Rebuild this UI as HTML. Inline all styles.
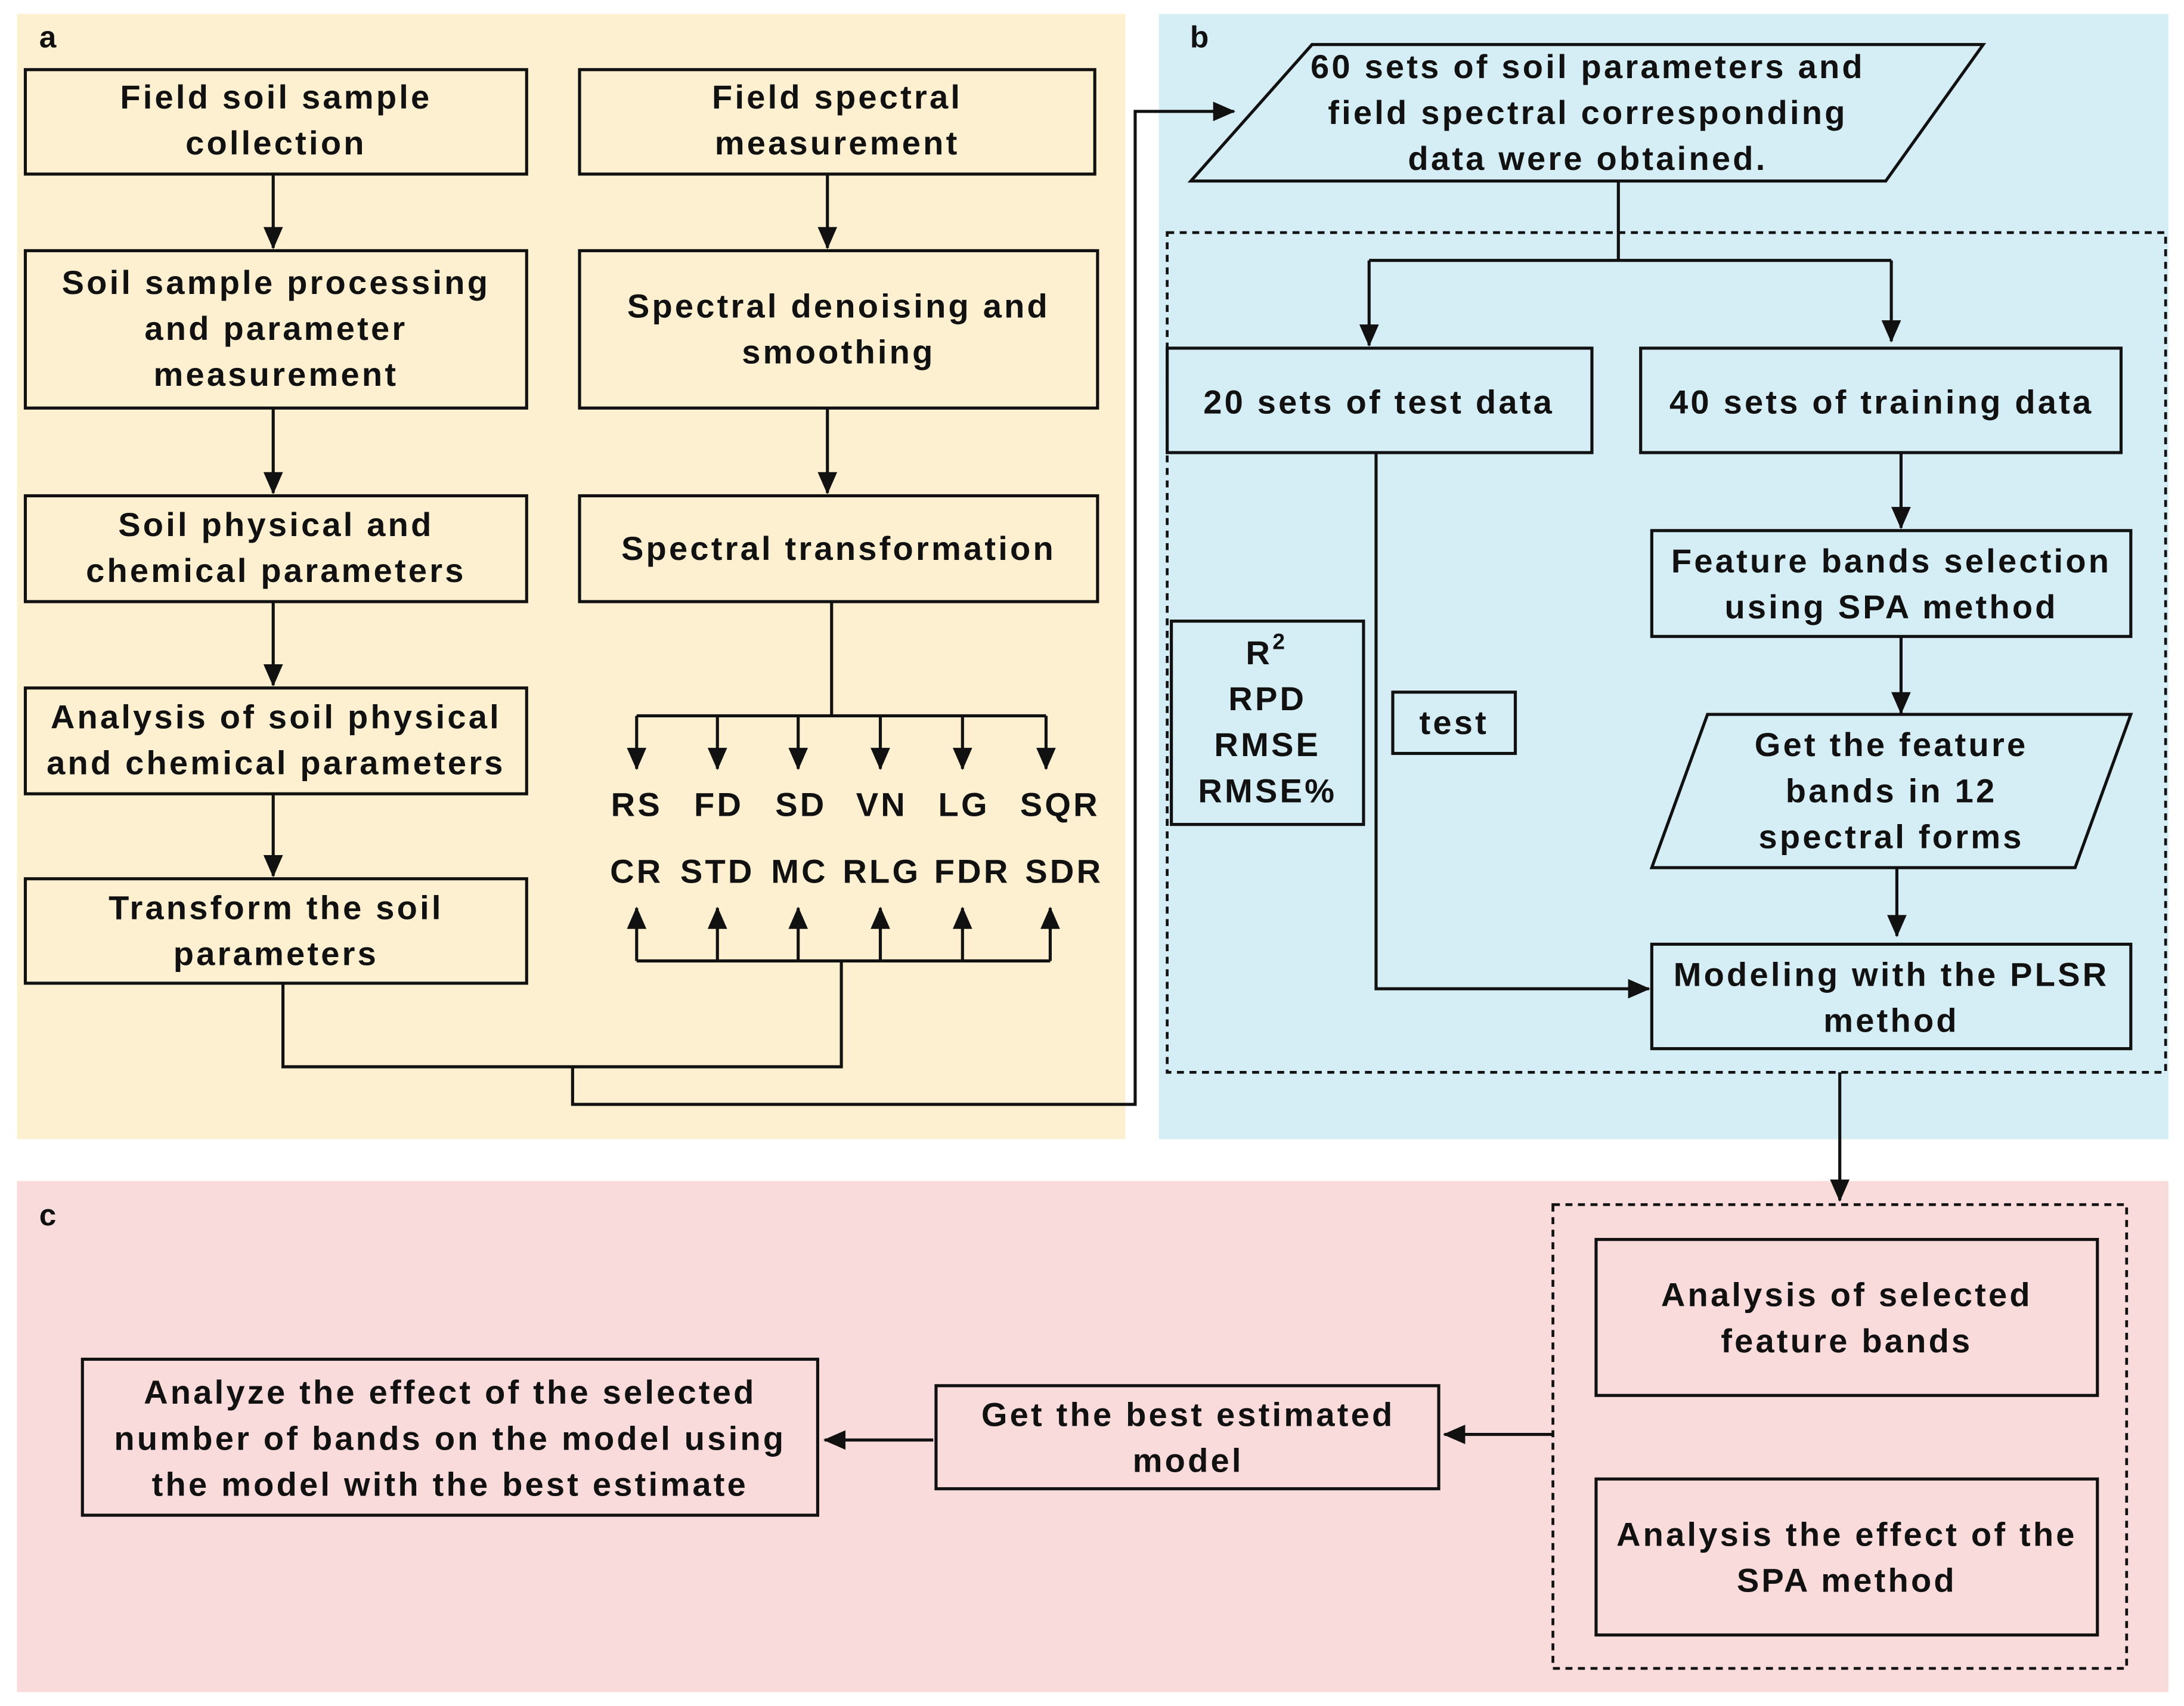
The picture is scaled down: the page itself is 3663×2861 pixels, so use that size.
<!DOCTYPE html>
<html><head><meta charset="utf-8"><style>
html,body{margin:0;padding:0;background:#fff;}
svg{display:block;}
text{font-family:"Liberation Sans",Arial,sans-serif;font-weight:bold;font-size:24px;fill:#111;text-anchor:middle;letter-spacing:1.8px;}
.b{fill:none;stroke:#111;stroke-width:2.2;}
.l{fill:none;stroke:#111;stroke-width:2.2;}
</style></head><body>
<svg width="3663" height="2861" viewBox="0 0 1568 1225" xmlns="http://www.w3.org/2000/svg">
<defs>
<marker id="a2" markerWidth="16" markerHeight="16" refX="15" refY="8" orient="auto" markerUnits="userSpaceOnUse"><path d="M0,1 L16,8 L0,15 Z" fill="#111"/></marker></defs>
<rect x="0" y="0" width="1568" height="1225" fill="#fff"/>
<rect x="12" y="10" width="796" height="808" fill="#fdf0d0"/>
<rect x="832" y="10" width="725" height="808" fill="#d5edf4"/>
<rect x="12" y="848" width="1545" height="367" fill="#f8dbda"/>
<text x="35" y="34" style="font-size:22px">a</text>
<text x="862" y="34" style="font-size:22px">b</text>
<text x="35" y="880" style="font-size:22px">c</text>

<rect class="b" x="18" y="50" width="360" height="75"/>
<text x="198" y="78">Field soil sample</text><text x="198" y="111">collection</text>
<rect class="b" x="18" y="180" width="360" height="113"/>
<text x="198" y="211">Soil sample processing</text><text x="198" y="244">and parameter</text><text x="198" y="277">measurement</text>
<rect class="b" x="18" y="356" width="360" height="76"/>
<text x="198" y="385">Soil physical and</text><text x="198" y="418">chemical parameters</text>
<rect class="b" x="18" y="494" width="360" height="76"/>
<text x="198" y="523">Analysis of soil physical</text><text x="198" y="556">and chemical parameters</text>
<rect class="b" x="18" y="631" width="360" height="75"/>
<text x="198" y="660">Transform the soil</text><text x="198" y="693">parameters</text>
<g class="l" marker-end="url(#a2)">
<line x1="196" y1="125" x2="196" y2="178"/><line x1="196" y1="293" x2="196" y2="354"/><line x1="196" y1="432" x2="196" y2="492"/><line x1="196" y1="570" x2="196" y2="629"/>
<line x1="594" y1="125" x2="594" y2="178"/><line x1="594" y1="293" x2="594" y2="354"/>
</g>
<rect class="b" x="416" y="50" width="370" height="75"/>
<text x="601" y="78">Field spectral</text><text x="601" y="111">measurement</text>
<rect class="b" x="416" y="180" width="372" height="113"/>
<text x="602" y="228">Spectral denoising and</text><text x="602" y="261">smoothing</text>
<rect class="b" x="416" y="356" width="372" height="76"/>
<text x="602" y="402">Spectral transformation</text>
<polyline class="l" points="597,432 597,514"/>
<line class="l" x1="457" y1="514" x2="751" y2="514"/>
<g class="l" marker-end="url(#a2)">
<line x1="457" y1="514" x2="457" y2="552"/><line x1="515" y1="514" x2="515" y2="552"/><line x1="573" y1="514" x2="573" y2="552"/><line x1="632" y1="514" x2="632" y2="552"/><line x1="691" y1="514" x2="691" y2="552"/><line x1="751" y1="514" x2="751" y2="552"/>
<line x1="457" y1="690" x2="457" y2="652"/><line x1="515" y1="690" x2="515" y2="652"/><line x1="573" y1="690" x2="573" y2="652"/><line x1="632" y1="690" x2="632" y2="652"/><line x1="691" y1="690" x2="691" y2="652"/><line x1="754" y1="690" x2="754" y2="652"/>
</g>
<text x="457" y="586">RS</text><text x="516" y="586">FD</text><text x="575" y="586">SD</text><text x="633" y="586">VN</text><text x="692" y="586">LG</text><text x="761" y="586">SQR</text>
<text x="457" y="634">CR</text><text x="515" y="634">STD</text><text x="574" y="634">MC</text><text x="633" y="634">RLG</text><text x="698" y="634">FDR</text><text x="764" y="634">SDR</text>
<line class="l" x1="457" y1="690" x2="754" y2="690"/>
<polyline class="l" points="604,690 604,766 203,766 203,706"/>
<polyline class="l" points="411,766 411,793 815,793 815,80 886,80" marker-end="url(#a2)"/>

<polygon class="b" points="855,130 942,32 1424,32 1354,130"/>
<text x="1140" y="56">60 sets of soil parameters and</text><text x="1140" y="89">field spectral corresponding</text><text x="1140" y="122">data were obtained.</text>
<rect x="838" y="167" width="717" height="603" fill="none" stroke="#111" stroke-width="2" stroke-dasharray="5,4"/>
<polyline class="l" points="1162,130 1162,187"/>
<line class="l" x1="983" y1="187" x2="1358" y2="187"/>
<g class="l" marker-end="url(#a2)">
<line x1="983" y1="187" x2="983" y2="248"/><line x1="1358" y1="187" x2="1358" y2="245"/>
<line x1="1365" y1="325" x2="1365" y2="379"/><line x1="1365" y1="457" x2="1365" y2="512"/><line x1="1362" y1="623" x2="1362" y2="672"/>
<polyline points="988,325 988,710 1184,710" fill="none"/>
<line x1="1321" y1="770" x2="1321" y2="862"/>
</g>
<rect class="b" x="838" y="250" width="305" height="75"/><text x="990" y="297">20 sets of test data</text>
<rect class="b" x="1178" y="250" width="345" height="75"/><text x="1351" y="297">40 sets of training data</text>
<rect class="b" x="1186" y="381" width="344" height="76"/>
<text x="1358" y="411">Feature bands selection</text><text x="1358" y="444">using SPA method</text>
<polygon class="b" points="1186,623 1226,513 1530,513 1490,623"/>
<text x="1358" y="543">Get the feature</text><text x="1358" y="576">bands in 12</text><text x="1358" y="609">spectral forms</text>
<rect class="b" x="1186" y="678" width="344" height="75"/>
<text x="1358" y="708">Modeling with the PLSR</text><text x="1358" y="741">method</text>
<rect class="b" x="841" y="446" width="138" height="146"/>
<text x="904" y="477">R</text><text x="919" y="466" style="font-size:16px">2</text>
<text x="910" y="510">RPD</text><text x="910" y="543">RMSE</text><text x="910" y="576">RMSE%</text>
<rect class="b" x="1000" y="497" width="88" height="44"/><text x="1044" y="527">test</text>

<rect x="1115" y="865" width="412" height="333" fill="none" stroke="#111" stroke-width="2" stroke-dasharray="5,4"/>
<rect class="b" x="1146" y="890" width="360" height="112"/>
<text x="1326" y="938">Analysis of selected</text><text x="1326" y="971">feature bands</text>
<rect class="b" x="1146" y="1062" width="360" height="112"/>
<text x="1326" y="1110">Analysis the effect of the</text><text x="1326" y="1143">SPA method</text>
<rect class="b" x="672" y="995" width="361" height="74"/>
<text x="853" y="1024">Get the best estimated</text><text x="853" y="1057">model</text>
<rect class="b" x="59" y="976" width="528" height="112"/>
<text x="323" y="1008">Analyze the effect of the selected</text><text x="323" y="1041">number of bands on the model using</text><text x="323" y="1074">the model with the best estimate</text>
<g class="l" marker-end="url(#a2)">
<line x1="1115" y1="1030" x2="1037" y2="1030"/><line x1="670" y1="1034" x2="592" y2="1034"/>
</g>
</svg>
</body></html>
